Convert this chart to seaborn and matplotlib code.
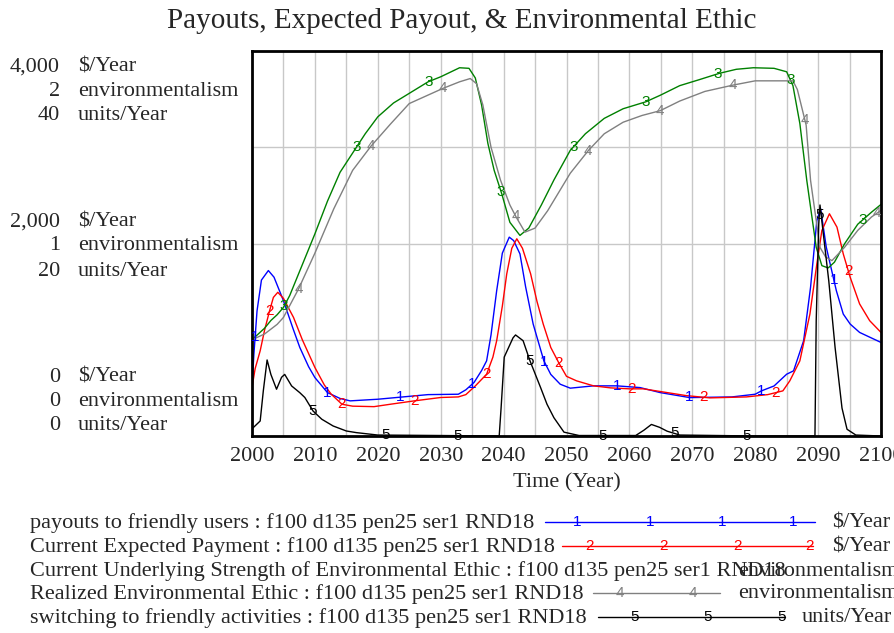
import numpy as np
import matplotlib
matplotlib.use("Agg")
import matplotlib.pyplot as plt
from matplotlib.lines import Line2D
import seaborn as sns

# ---------------- data ----------------
yrs_payouts = [2000, 2000.3, 2000.8, 2001.5, 2002.6, 2003.5, 2005, 2006.5, 2007.6, 2009, 2010,
               2012, 2014, 2015.6, 2020, 2024, 2028, 2032.8, 2034, 2035.3, 2036.5, 2037.3, 2038,
               2038.9, 2039.8, 2040.9, 2041.6, 2042.6, 2043.5, 2044.7, 2046.4, 2047.5, 2049, 2050.6,
               2054.3, 2058, 2061.7, 2064.9, 2069.6, 2076.3, 2080, 2081, 2083, 2085, 2086.1, 2087.7,
               2088.8, 2089.8, 2090.4, 2091.3, 2092.9, 2094, 2095.1, 2096.6, 2100]
payouts = [503, 850, 1300, 1620, 1719, 1650, 1406, 1120, 920, 720, 607,
           451, 390, 365, 382, 406, 430, 434, 480, 556, 680, 781, 1050,
           1510, 1900, 2066, 2030, 1892, 1550, 1163, 781, 640, 538, 497,
           521, 521, 503, 451, 399, 406, 434, 469, 520, 642, 677, 990,
           1545, 2240, 2361, 1962, 1510, 1267, 1163, 1076, 972]

yrs_expected = [2000, 2000.5, 2001.3, 2002, 2002.8, 2003.4, 2004.1, 2005, 2006.6, 2008, 2010,
                2011.5, 2012.6, 2014.3, 2016, 2019.4, 2022, 2025.8, 2030, 2032.8, 2034, 2035.5,
                2037.3, 2038.3, 2038.9, 2039.8, 2040.5, 2041.3, 2042.1, 2043, 2044.3, 2045.3, 2046.3,
                2047.5, 2048.8, 2050, 2051.6, 2054.3, 2057, 2060, 2062.2, 2066, 2069, 2072.8, 2078.6,
                2082, 2084.4, 2085.5, 2087.1, 2088.7, 2089.8, 2090.6, 2091.8, 2093, 2094, 2095.1,
                2096.6, 2098.2, 2100]
expected = [503, 700, 885, 1100, 1302, 1440, 1493, 1430, 1232, 1000, 712,
            530, 434, 330, 310, 305, 330, 365, 400, 406, 430, 520,
            642, 820, 990, 1350, 1684, 1950, 2049, 1950, 1684, 1400, 1163,
            920, 757, 620, 573, 521, 500, 490, 490, 451, 420, 396, 406,
            430, 469, 573, 781, 1267, 1788, 2135, 2309, 2170, 1892, 1649,
            1372, 1198, 1076]

yrs_underlying = [2000, 2001, 2002, 2003, 2004, 2005, 2006, 2007, 2008, 2009, 2010, 2012, 2014,
                  2016.6, 2018, 2020, 2022.5, 2025, 2028, 2030, 2033, 2034.5, 2035.5, 2036.5, 2037.5,
                  2038.5, 2039.7, 2041, 2042.6, 2044, 2046, 2048, 2050.6, 2053, 2056, 2059, 2062.6,
                  2064.9, 2068, 2071, 2074.3, 2077, 2079.7, 2083, 2085, 2086, 2087.1, 2088.2,
                  2089.7, 2090.6, 2091.6, 2092.6, 2094.2, 2096.3, 2098.5, 2100]
underlying = [0.50, 0.53, 0.56, 0.60, 0.63, 0.668, 0.73, 0.81, 0.89, 0.97, 1.05, 1.22, 1.37,
              1.50, 1.57, 1.658, 1.73, 1.78, 1.84, 1.866, 1.913, 1.91, 1.86, 1.72, 1.52,
              1.38, 1.259, 1.11, 1.042, 1.08, 1.20, 1.33, 1.484, 1.57, 1.65, 1.70, 1.736,
              1.77, 1.82, 1.85, 1.884, 1.905, 1.913, 1.91, 1.892, 1.82, 1.623, 1.328,
              0.98, 0.885, 0.873, 0.903, 0.998, 1.10, 1.163, 1.203]

yrs_realized = [2000, 2002, 2004, 2005, 2007.4, 2010, 2013, 2016, 2018.9, 2022, 2025, 2030.3,
                2033, 2034.7, 2035.7, 2036.7, 2038, 2039.5, 2041, 2042, 2043.4, 2045, 2047,
                2050.6, 2053.5, 2056, 2059, 2062, 2064.9, 2068, 2072, 2076.5, 2080, 2086,
                2086.7, 2088.1, 2088.8, 2090.3, 2091.2, 2092.2, 2094.2, 2096.3, 2098.5, 2100]
realized = [0.50, 0.53, 0.58, 0.616, 0.764, 0.95, 1.18, 1.38, 1.505, 1.62, 1.727, 1.805,
            1.84, 1.857, 1.83, 1.72, 1.50, 1.33, 1.20, 1.137, 1.059, 1.08, 1.17,
            1.365, 1.484, 1.57, 1.63, 1.665, 1.69, 1.74, 1.79, 1.823, 1.845, 1.845,
            1.80, 1.615, 1.328, 0.98, 0.93, 0.911, 0.98, 1.068, 1.138, 1.172]

yrs_switching = [2000, 2000.2, 2001.3, 2001.8, 2002.4, 2003.0, 2003.9, 2004.7, 2005.2, 2006.3,
                 2007.6, 2008.4, 2009.7, 2011.1, 2012.9, 2015, 2016.6, 2020, 2030, 2039.3,
                 2039.6, 2040.1, 2041.5, 2041.9, 2043.1, 2044.2, 2045.9, 2046.9, 2048, 2049.6,
                 2052, 2061, 2062.3, 2063.5, 2064.8, 2066, 2068, 2080, 2089.5, 2089.7, 2090.1,
                 2090.3, 2091.7, 2092.7, 2093.8, 2094.6, 2096, 2100]
switching = [0.8, 0.87, 1.56, 4.7, 7.9, 6.4, 4.86, 6.1, 6.4, 5.2,
             4.5, 4.0, 2.6, 1.74, 1.04, 0.52, 0.35, 0.1, 0.05, 0.0,
             2.9, 8.2, 10.2, 10.5, 9.9, 7.8, 5.0, 3.3, 1.9, 0.4,
             0.05, 0.05, 0.6, 1.2, 0.9, 0.5, 0.1, 0.0, 0.0, 12.0, 22.0,
             24.0, 16.1, 9.2, 2.9, 0.7, 0.1, 0.0]

series_names = ["payouts to friendly users", "Current Expected Payment",
                "Current Underlying Strength of Environmental Ethic",
                "Realized Environmental Ethic", "switching to friendly activities"]
run_name = "f100 d135 pen25 ser1 RND18"
series_units = ["$/Year", "$/Year", "environmentalism", "environmentalism", "units/Year"]
series_colors = ["#0000ff", "#ff0000", "#008000", "#808080", "#000000"]
unit_max = {"$/Year": 4000, "environmentalism": 2, "units/Year": 40}
ytick_values = {"$/Year": ["4,000", "2,000", "0"],
                "environmentalism": ["2", "1", "0"],
                "units/Year": ["40", "20", "0"]}
x_ticks = list(range(2000, 2101, 10))
label_first = [2000.5, 2002.8, 2005.1, 2007.4, 2009.7]
label_step = 11.5

data_x = [yrs_payouts, yrs_expected, yrs_underlying, yrs_realized, yrs_switching]
data_y = [payouts, expected, underlying, realized, switching]

# ---------------- figure ----------------
sns.set_theme(style="white")
plt.rcParams["font.family"] = ["Liberation Serif", "DejaVu Serif"]

FS = 16
W, H = 894, 633
fig = plt.figure(figsize=(W / 100, H / 100), dpi=100)
L, R, T, B = 252, 881, 51, 436
ax = fig.add_axes([L / W, 1 - B / H, (R - L) / W, (B - T) / H])

for i in range(5):
    scale = unit_max[series_units[i]] / 4.0
    yv = np.array(data_y[i], dtype=float) / scale
    sns.lineplot(x=data_x[i], y=yv, ax=ax, color=series_colors[i], lw=1.0,
                 estimator=None, sort=False, legend=False)
    lx = np.arange(label_first[i], 2100, label_step)
    ly = np.interp(lx, data_x[i], yv)
    for a, b in zip(lx, ly):
        ax.text(a, b, str(i + 1), color=series_colors[i], ha="center", va="center",
                fontsize=11, family="Liberation Sans", zorder=5)

ax.set_xlim(2000, 2100)
ax.set_ylim(0, 4)
ax.set_xticks(np.arange(2000, 2101, 5))
ax.set_xticklabels([str(v) if v in x_ticks else "" for v in range(2000, 2101, 5)],
                   fontsize=FS)
ax.set_yticks([0, 1, 2, 3, 4])
ax.set_yticklabels([])
ax.tick_params(length=0, pad=8)
ax.grid(True, color="#c8c8c8", lw=1)
ax.set_axisbelow(True)
for s in ax.spines.values():
    s.set_color("black")
    s.set_linewidth(2)
ax.set_xlabel("Time (Year)", fontsize=FS, labelpad=5)
ax.set_ylabel("")

def ftext(x, y, s, **kw):
    fig.text(x / W, 1 - y / H, s, **kw)

ftext(462, 21, "Payouts, Expected Payout, & Environmental Ethic", fontsize=21,
      ha="center", va="center")

# left axis labels
group_y = [(67, 91, 116), (222, 246, 271), (377, 401, 426)]
units_order = ["$/Year", "environmentalism", "units/Year"]
for g, ys in enumerate(group_y):
    for u, yy in zip(units_order, ys):
        ftext(60, yy, ytick_values[u][g], fontsize=FS, ha="right", va="center")
        ftext(78, yy, u, fontsize=FS, ha="left", va="center")

# legend
leg_y = [523, 547, 571, 594, 618]
leg_line = [(545, 815), (562, 813), None, (593, 720), (598, 785)]
leg_marks = [[577, 650, 722, 793], [590, 663, 737, 810], [], [620, 693], [635, 708, 782]]
leg_unit_x = [832, 832, 738, 738, 802]
for i in range(5):
    yy = leg_y[i]
    ftext(30, yy, f"{series_names[i]} : {run_name}", fontsize=FS, ha="left", va="center")
    if leg_line[i] is not None:
        x0, x1 = leg_line[i]
        fig.add_artist(Line2D([x0 / W, x1 / W], [1 - (yy - 1) / H, 1 - (yy - 1) / H],
                              transform=fig.transFigure, color=series_colors[i], lw=1))
    for mx in leg_marks[i]:
        ftext(mx, yy - 1, str(i + 1), color=series_colors[i], fontsize=11,
              family="Liberation Sans", ha="center", va="center")
    ftext(leg_unit_x[i], yy, series_units[i], fontsize=FS, ha="left", va="center")

fig.savefig("out.png", dpi=100)
